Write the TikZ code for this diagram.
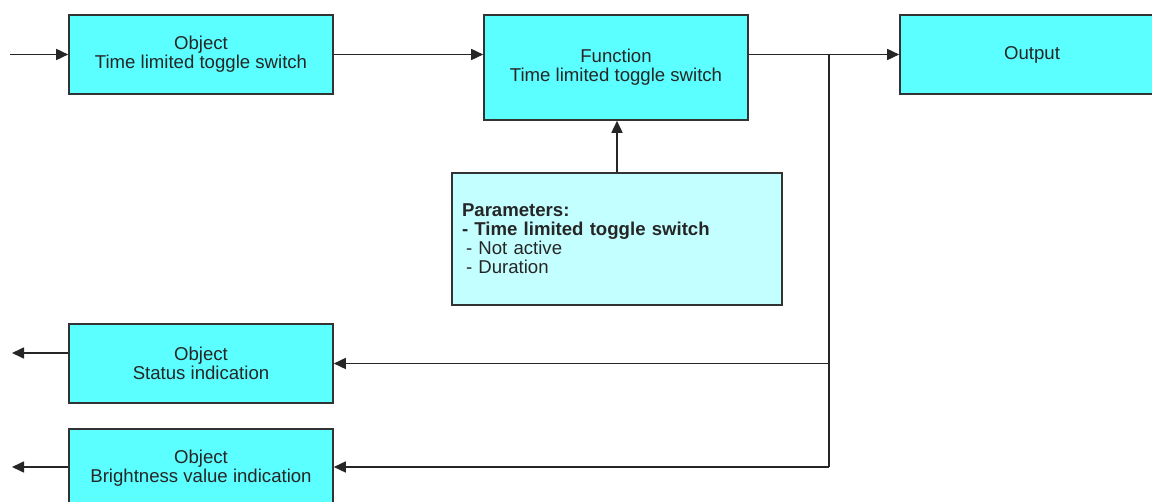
\documentclass[tikz,border=0pt]{standalone}
\usepackage{fontspec}
\setmainfont{Liberation Sans}
\usetikzlibrary{arrows.meta}
\definecolor{boxcyan}{HTML}{5CFFFF}
\definecolor{paramcyan}{HTML}{C4FFFF}
\begin{document}
\begin{tikzpicture}[x=1pt,y=-1pt,
 blk/.style={draw=black!80, line width=1.6pt, fill=boxcyan, minimum width=264pt, inner sep=0pt, align=center, font=\fontsize{18.6}{19}\selectfont, text=black!85},
 conn/.style={line width=1.6pt, draw=black!85},
 arr/.style={conn, -{Triangle[length=12pt,width=11pt]}}]
\clip (0,0) rectangle (1152,502);
\node[blk, minimum height=79pt] (obj) at (201,54.5) {Object\\Time limited toggle switch};
\node[blk, minimum height=105pt] (fun) at (616,67.5) {Function\\Time limited toggle switch};
\node[blk, minimum height=79pt] (out) at (1032,54.5) {Output};
\node[blk, minimum height=79pt] (stat) at (201,363.5) {Object\\Status indication};
\node[blk, minimum height=79pt] (bri) at (201,468.5) {Object\\Brightness value indication};
\node[blk, fill=paramcyan, minimum width=330pt, minimum height=132pt, text width=310pt, align=left] (par) at (617,239) {\textbf{Parameters:}\\\textbf{- Time limited toggle switch}\\\hspace*{4pt}- Not active\\\hspace*{4pt}- Duration};
\coordinate (in) at (10,54.5);
\coordinate (br) at (829,54.5);
\coordinate (bb) at (829,467);
\coordinate (so) at (12,353);
\coordinate (bo) at (12,467);
\draw[arr] (in) -- (obj.west);
\draw[arr] (obj.east) -- (obj.east -| fun.west);
\draw[arr] (fun.east |- br) -- (out.west);
\draw[conn] (br) -- (bb);
\draw[arr] (br |- stat.east) -- (stat.east);
\draw[arr] (bb) -- (bri.east |- bb);
\draw[arr] (par.north) -- (par.north |- fun.south);
\draw[arr] (stat.west |- so) -- (so);
\draw[arr] (bri.west |- bo) -- (bo);
\end{tikzpicture}
\end{document}
